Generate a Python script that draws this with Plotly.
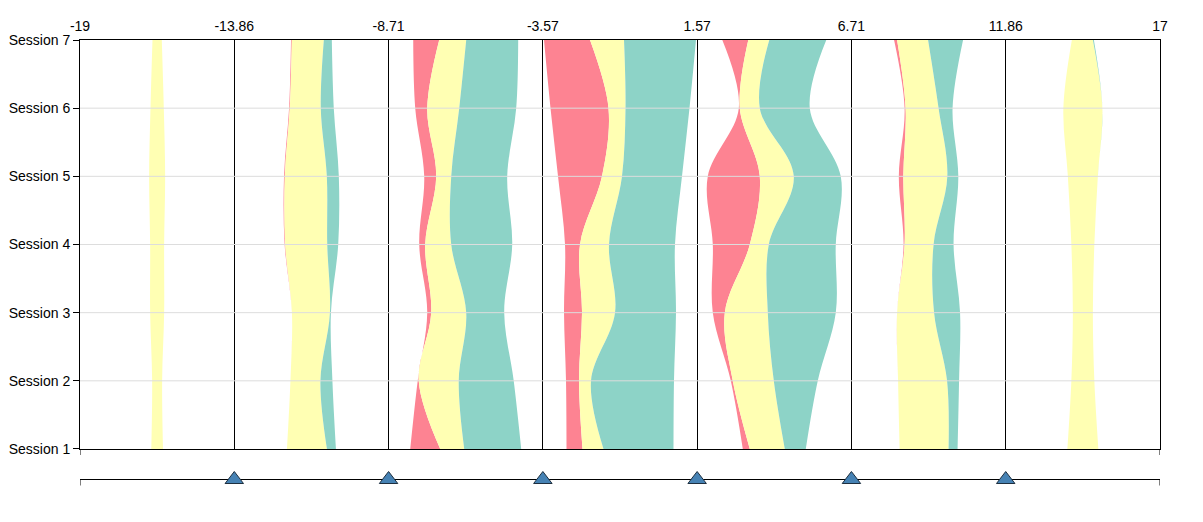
import numpy as np
import plotly.graph_objects as go

# sessions from bottom to top
sessions = ["Session 1", "Session 2", "Session 3", "Session 4", "Session 5", "Session 6", "Session 7"]
x_min, x_max, n_bins = -19, 17, 7

# counts per bin (rows) and session (cols)
red_vals = [
    [0, 0, 0, 0, 0, 0, 0],
    [0, 0, 0, 0.6, 0.8, 0.7, 0.8],
    [30, 1, 4, 6, 12, 12, 26],
    [16, 13, 18, 15, 44, 58, 46],
    [7, 2, 12, 37, 52, 1, 26],
    [0, 0, 0, 1, 4.5, 1, 3],
    [0, 0, 0, 0, 0, 0, 0],
]
yellow_vals = [
    [11.7, 10, 14, 14, 16, 13.3, 9.3],
    [40, 30, 38, 42, 42, 31, 32],
    [24, 40, 35, 26, 15, 32, 27],
    [21, 12, 33, 29, 20, 17, 34],
    [35, 41, 43, 19, 34, 20, 21],
    [49, 49, 37, 29, 44, 33, 31],
    [31, 23, 20, 23, 30, 39, 21],
]
teal_vals = [
    [0, 0, 0, 0, 0, 0, 0],
    [9, 12, 1, 11, 12, 13, 8],
    [57, 55, 38, 61, 56, 57, 52],
    [70, 83, 61, 66, 60, 64, 72],
    [21, 44, 68, 67, 47, 50, 57],
    [9, 12, 26, 20, 11, 14, 35],
    [0, 0, 0, 0, 0, 0, 1],
]
colours = ["#fd8392", "#ffffb3", "#8dd3c7"]

boundaries = np.linspace(x_min, x_max, n_bins + 1)
tick_text = [("%.2f" % b).rstrip("0").rstrip(".") for b in boundaries]
bin_w = (x_max - x_min) / n_bins
centers = boundaries[:-1] + bin_w / 2

stack = np.array([red_vals, yellow_vals, teal_vals], dtype=float)  # (colour, bin, session)
totals = stack.sum(axis=0)
scale = 0.985 * bin_w / totals.max()

fig = go.Figure()
for b in range(n_bins):
    left = centers[b] - totals[b] * scale / 2
    edges = [left]
    for c in range(3):
        edges.append(edges[-1] + stack[c, b] * scale)
    for k, e in enumerate(edges):
        fig.add_trace(
            go.Scatter(
                x=e,
                y=sessions,
                mode="lines",
                line=dict(width=0, shape="spline"),
                fill="none" if k == 0 else "tonextx",
                fillcolor=None if k == 0 else colours[k - 1],
                hoverinfo="skip",
                showlegend=False,
            )
        )

# slider at the bottom
fig.add_trace(
    go.Scatter(
        x=[x_min, x_max], y=[0, 0], mode="lines",
        line=dict(color="black", width=1),
        xaxis="x2", yaxis="y2", hoverinfo="skip", showlegend=False,
    )
)
fig.add_trace(
    go.Scatter(
        x=boundaries[1:-1], y=[0] * (n_bins - 1), mode="markers",
        marker=dict(symbol="triangle-up", size=16, color="#4682b4",
                    line=dict(color="#1e2f3f", width=1)),
        xaxis="x2", yaxis="y2", hoverinfo="skip", showlegend=False,
    )
)

shapes = []
# light horizontal grid drawn above the streams
for i in range(1, len(sessions) - 1):
    shapes.append(dict(type="line", xref="x domain", yref="y", x0=0, x1=1, y0=i, y1=i,
                       line=dict(color="#dddddd", width=1), layer="above"))
# small outer ticks at the ends of the bottom lines
for xv in [x_min, x_max]:
    shapes.append(dict(type="line", xref="x", yref="y domain", x0=xv, x1=xv,
                       ysizemode="pixel", yanchor=0, y0=0, y1=-6,
                       line=dict(color="black", width=1)))
    shapes.append(dict(type="line", xref="x2", yref="y2", x0=xv, x1=xv,
                       ysizemode="pixel", yanchor=0, y0=0, y1=-6,
                       line=dict(color="black", width=1)))

fig.update_layout(
    width=1187,
    height=506,
    margin=dict(l=72, r=35, t=32, b=14),
    plot_bgcolor="white",
    paper_bgcolor="white",
    font=dict(family="Liberation Sans, Arial, sans-serif", size=14, color="black"),
    shapes=shapes,
    xaxis=dict(
        side="top", range=[x_min, x_max], tickvals=boundaries, ticktext=tick_text,
        showline=True, linecolor="black", linewidth=1, mirror=True,
        showgrid=True, gridcolor="black", gridwidth=1,
        ticks="outside", ticklen=2, tickcolor="rgba(0,0,0,0)",
        zeroline=False, anchor="y", automargin=False,
    ),
    yaxis=dict(
        type="category", categoryarray=sessions, range=[0, len(sessions) - 1],
        domain=[0.1109, 1], showline=True, linecolor="black", linewidth=1, mirror=True,
        showgrid=False, ticks="outside", ticklen=6, tickcolor="black", zeroline=False,
        automargin=False,
    ),
    xaxis2=dict(range=[x_min, x_max], anchor="y2", visible=False, automargin=False),
    yaxis2=dict(range=[-1, 1], domain=[0, 0.0891], visible=False, automargin=False),
)

fig.write_html("out.html")
